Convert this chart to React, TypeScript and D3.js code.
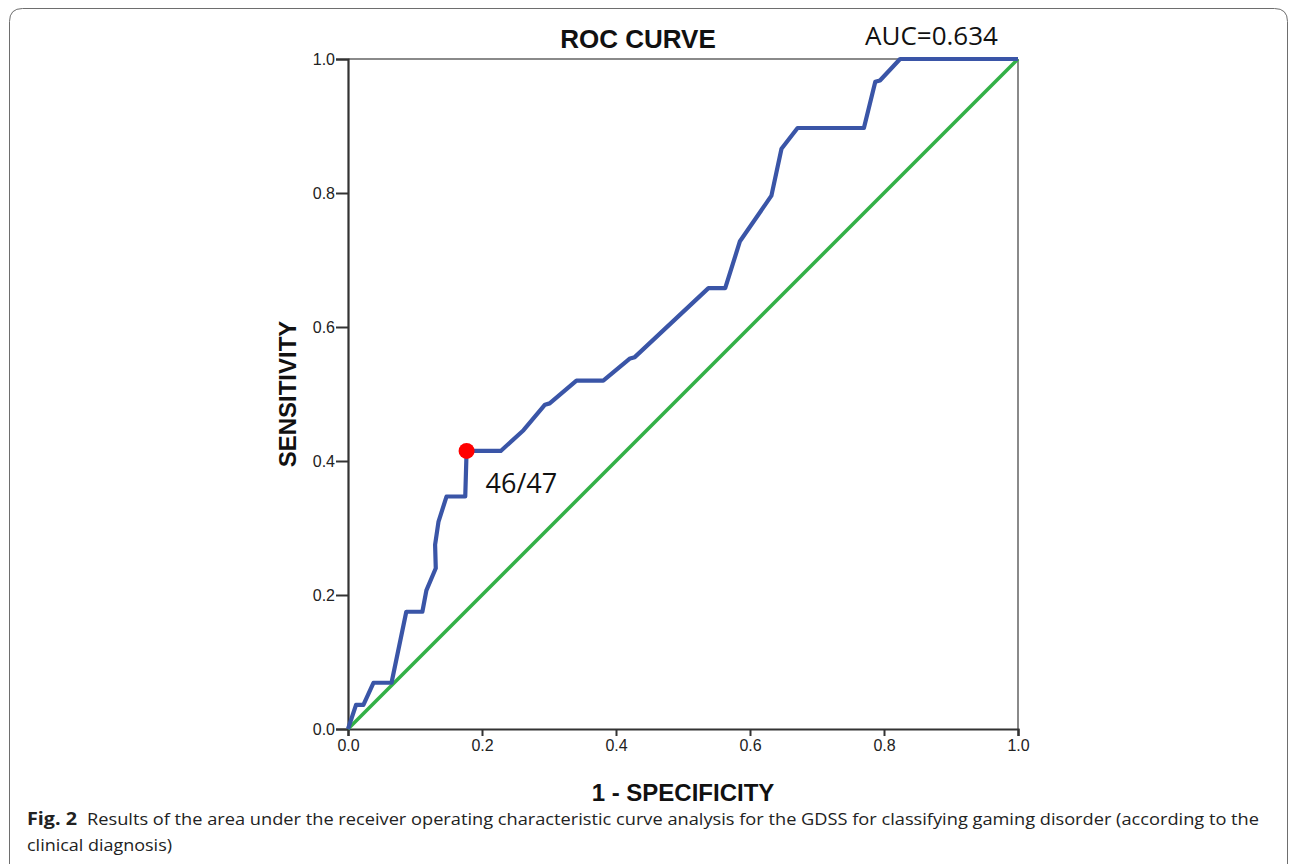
import { useRef, useEffect } from 'react';
import * as d3 from 'd3';

// ROC curve points
const fpr = [0, 0.012, 0.023, 0.038, 0.065, 0.087, 0.111, 0.117, 0.131, 0.130, 0.135, 0.147, 0.175, 0.177,
  0.228, 0.262, 0.294, 0.301, 0.341, 0.381, 0.421, 0.428, 0.538, 0.563, 0.585, 0.632, 0.647, 0.671,
  0.770, 0.787, 0.794, 0.824, 1];
const tpr = [0, 0.036, 0.036, 0.069, 0.069, 0.175, 0.175, 0.207, 0.240, 0.275, 0.309, 0.347, 0.347, 0.415,
  0.415, 0.446, 0.484, 0.486, 0.520, 0.520, 0.553, 0.555, 0.658, 0.658, 0.728, 0.796, 0.866, 0.897,
  0.897, 0.966, 0.968, 1, 1];
const refLine = [0, 1];
const cutoff = { x: 0.177, y: 0.415, label: '46/47' };
const ticks = [0, 0.2, 0.4, 0.6, 0.8, 1.0];
const aucText = 'AUC=0.634';
const captionBold = 'Fig. 2';
const captionLine1 = 'Results of the area under the receiver operating characteristic curve analysis for the GDSS for classifying gaming disorder (according to the';
const captionLine2 = 'clinical diagnosis)';

const App = () => {
  const svgRef = useRef<SVGSVGElement>(null);

  useEffect(() => {
    const height = 864;
    const plot = { left: 348, right: 1018, top: 59, bottom: 729 };

    const svg = d3.select(svgRef.current);
    svg.selectAll('*').remove();

    const x = d3.scaleLinear().domain([0, 1]).range([plot.left, plot.right]);
    const y = d3.scaleLinear().domain([0, 1]).range([plot.bottom, plot.top]);

    // outer figure frame
    svg.append('path')
      .attr('d', `M9.5,${height + 20} L9.5,21.5 Q9.5,8.5 22.5,8.5 L1274.5,8.5 Q1287.5,8.5 1287.5,21.5 L1287.5,${height + 20}`)
      .attr('fill', 'none')
      .attr('stroke', '#6e6e6e')
      .attr('stroke-width', 1);

    // top / right box lines
    svg.append('line')
      .attr('x1', x(0)).attr('x2', x(1)).attr('y1', y(1)).attr('y2', y(1))
      .attr('stroke', '#8a8a8a').attr('stroke-width', 2);
    svg.append('line')
      .attr('x1', x(1)).attr('x2', x(1)).attr('y1', y(1)).attr('y2', y(0))
      .attr('stroke', '#8a8a8a').attr('stroke-width', 2);

    // axes
    const xAxis = svg.append('g')
      .attr('transform', `translate(0, ${plot.bottom})`)
      .call(d3.axisBottom(x).tickValues(ticks).tickFormat(d3.format('.1f')).tickSizeOuter(0).tickSize(7).tickPadding(4));
    const yAxis = svg.append('g')
      .attr('transform', `translate(${plot.left}, 0)`)
      .call(d3.axisLeft(y).tickValues(ticks).tickFormat(d3.format('.1f')).tickSizeOuter(0).tickSize(12).tickPadding(1));

    [xAxis, yAxis].forEach(g => {
      g.select('.domain').attr('stroke', '#333').attr('stroke-width', 2.2);
      g.selectAll('.tick line').attr('stroke', '#333').attr('stroke-width', 2);
      g.selectAll('.tick text')
        .attr('font-family', '"Liberation Sans", Arial, sans-serif')
        .attr('font-size', 16)
        .attr('fill', '#222');
    });
    yAxis.selectAll('.tick text').attr('dy', '0.36em');

    // reference diagonal
    svg.append('line')
      .attr('x1', x(refLine[0])).attr('y1', y(refLine[0]))
      .attr('x2', x(refLine[1])).attr('y2', y(refLine[1]))
      .attr('stroke', '#33b047')
      .attr('stroke-width', 3.5);

    // ROC curve
    const pts = fpr.map((f, i) => [f, tpr[i]] as [number, number]);
    svg.append('path')
      .datum(pts)
      .attr('d', d3.line<[number, number]>().x(d => x(d[0])).y(d => y(d[1])))
      .attr('fill', 'none')
      .attr('stroke', '#3a55a7')
      .attr('stroke-width', 4.2)
      .attr('stroke-linejoin', 'round');

    // cut-off point
    svg.append('circle')
      .attr('cx', x(cutoff.x)).attr('cy', y(cutoff.y))
      .attr('r', 8)
      .attr('fill', '#ff0000');
    svg.append('text')
      .attr('x', x(cutoff.x) + 19).attr('y', y(cutoff.y) + 42)
      .attr('font-family', '"Open Sans", sans-serif')
      .attr('font-size', 27)
      .attr('fill', '#111')
      .text(cutoff.label);

    // titles
    svg.append('text')
      .attr('x', 638).attr('y', 48)
      .attr('text-anchor', 'middle')
      .attr('font-family', '"Liberation Sans", Arial, sans-serif')
      .attr('font-weight', 'bold')
      .attr('font-size', 26)
      .attr('fill', '#111')
      .text('ROC CURVE');
    svg.append('text')
      .attr('x', 865).attr('y', 45)
      .attr('font-family', '"Open Sans", sans-serif')
      .attr('font-size', 26)
      .attr('fill', '#111')
      .text(aucText);

    svg.append('text')
      .attr('x', (plot.left + plot.right) / 2).attr('y', 801)
      .attr('text-anchor', 'middle')
      .attr('font-family', '"Liberation Sans", Arial, sans-serif')
      .attr('font-weight', 'bold')
      .attr('font-size', 24)
      .attr('fill', '#111')
      .text('1 - SPECIFICITY');
    svg.append('text')
      .attr('transform', `translate(296, ${(plot.top + plot.bottom) / 2}) rotate(-90)`)
      .attr('text-anchor', 'middle')
      .attr('font-family', '"Liberation Sans", Arial, sans-serif')
      .attr('font-weight', 'bold')
      .attr('font-size', 24)
      .attr('fill', '#111')
      .text('SENSITIVITY');

    // caption
    const cap = svg.append('text')
      .attr('x', 27).attr('y', 825)
      .attr('font-family', '"Open Sans", sans-serif')
      .attr('font-size', 17)
      .attr('fill', '#222');
    cap.append('tspan')
      .attr('font-weight', 'bold')
      .attr('font-size', 18)
      .attr('textLength', 50)
      .attr('lengthAdjust', 'spacingAndGlyphs')
      .text(captionBold);
    cap.append('tspan')
      .attr('x', 87)
      .attr('textLength', 1172)
      .attr('lengthAdjust', 'spacingAndGlyphs')
      .text(captionLine1);
    svg.append('text')
      .attr('x', 27).attr('y', 851)
      .attr('font-family', '"Open Sans", sans-serif')
      .attr('font-size', 17)
      .attr('fill', '#222')
      .attr('textLength', 145)
      .attr('lengthAdjust', 'spacingAndGlyphs')
      .text(captionLine2);
  }, []);

  return (
    <svg ref={svgRef} width={1295} height={864}
      style={{ position: 'absolute', left: 0, top: 0, background: '#fff' }} />
  );
};

export default App;
